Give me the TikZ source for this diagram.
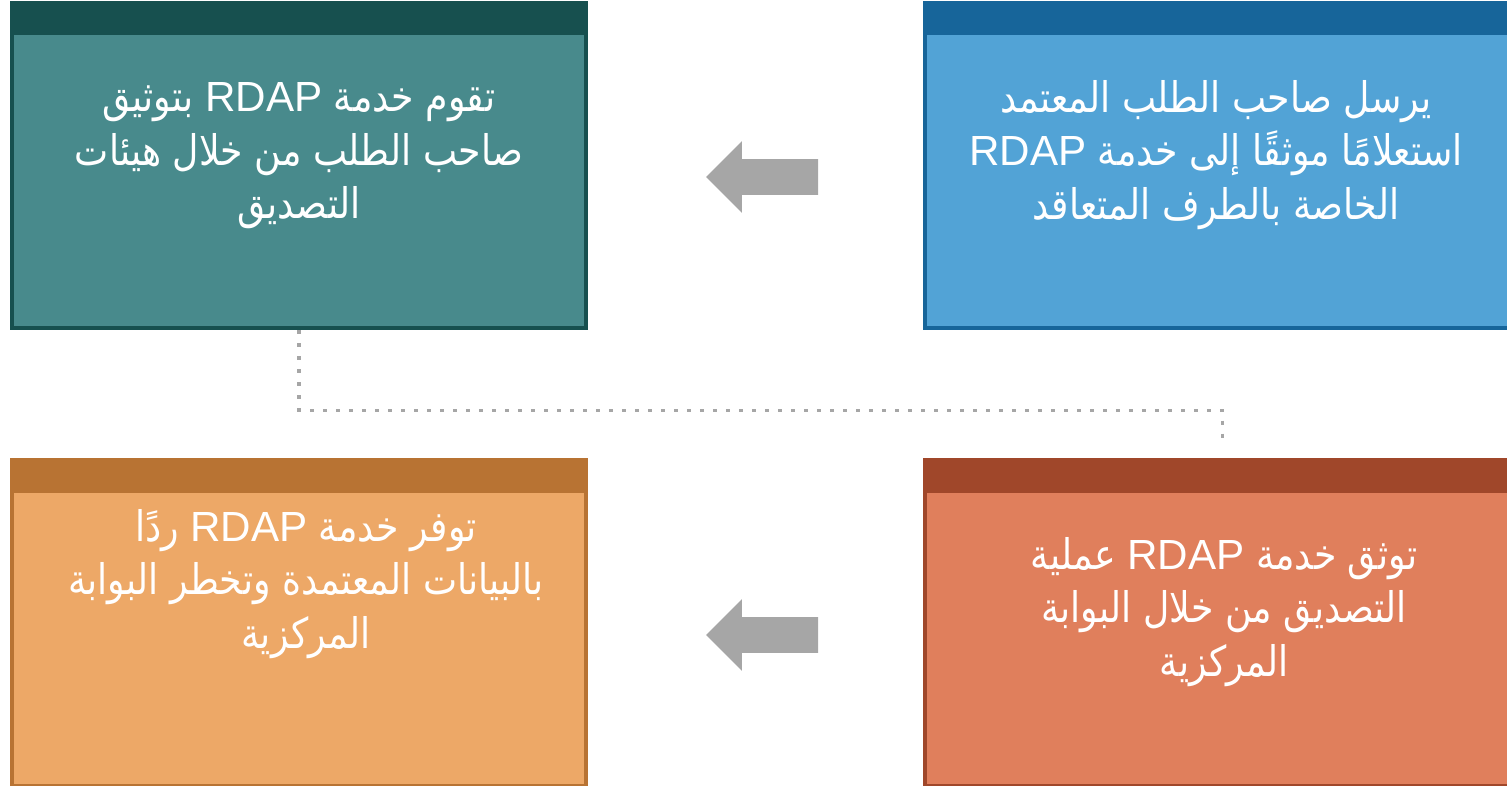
\documentclass[tikz,border=0pt]{standalone}
\usepackage{fontspec}
\usepackage{tikz}
\usetikzlibrary{positioning, calc, fit, shapes.arrows}
\TeXXeTstate=1
\newfontfamily\arabicfont[Script=Arabic, FakeStretch=0.86]{DejaVu Sans}
\newfontfamily\latinfont{Liberation Sans}
\definecolor{authhead}{HTML}{17504F}
\definecolor{authbody}{HTML}{488A8C}
\definecolor{reqhead}{HTML}{17659A}
\definecolor{reqbody}{HTML}{52A3D6}
\definecolor{replyhead}{HTML}{B87333}
\definecolor{replybody}{HTML}{EDA867}
\definecolor{checkhead}{HTML}{A0472A}
\definecolor{checkbody}{HTML}{E07F5C}
\definecolor{arrowgray}{HTML}{A6A6A6}
\tikzset{
  panel/.style = {rectangle, inner sep=0pt, line width=0.09cm},
  steptext/.style = {text=white, align=center, inner sep=0pt, font=\arabicfont\fontsize{24}{30.5}\selectfont},
  flowarrow/.style = {single arrow, fill=arrowgray, draw=none, inner xsep=0pt, inner ysep=0.35cm, minimum height=2.24cm, single arrow head extend=0.36cm, shape border rotate=180},
  dots/.style = {draw=arrowgray, line width=0.07cm, dash pattern=on 0.08cm off 0.18cm}
}

\begin{document}
\begin{tikzpicture}[x=0.02cm, y=-0.02cm]

	\useasboundingbox (0,0) rectangle (1507,785);

	% top row
	\node[panel, draw=authhead, fill=authbody, fit={(12,3) (586,328)}] (auth) {};
	\fill[authhead] (auth.north west) rectangle ($(auth.north east)+(0,34)$);
	\node[steptext] (authtext) at (299,156) {\beginR تقوم خدمة {\latinfont RDAP} بتوثيق\endR\\
		\beginR صاحب الطلب من خلال هيئات\endR\\
		\beginR التصديق\endR};

	\node[panel, draw=reqhead, fill=reqbody, fit={(925,3) (1520,328)}] (request) {};
	\fill[reqhead] (request.north west) rectangle ($(request.north east)+(0,34)$);
	\node[steptext] (requesttext) at (1216,155) {\beginR يرسل صاحب الطلب المعتمد\endR\\
		\beginR استعلامًا موثقًا إلى خدمة {\latinfont RDAP}\endR\\
		\beginR الخاصة بالطرف المتعاقد\endR};

	% bottom row
	\node[panel, draw=replyhead, fill=replybody, fit={(12,460) (586,786)}] (reply) {};
	\fill[replyhead] (reply.north west) rectangle ($(reply.north east)+(0,35)$);
	\node[steptext] (replytext) at (306,584) {\beginR توفر خدمة {\latinfont RDAP} ردًا\endR\\
		\beginR بالبيانات المعتمدة وتخطر البوابة\endR\\
		\beginR المركزية\endR};

	\node[panel, draw=checkhead, fill=checkbody, fit={(925,460) (1520,786)}] (check) {};
	\fill[checkhead] (check.north west) rectangle ($(check.north east)+(0,35)$);
	\node[steptext] (checktext) at (1224,612) {\beginR توثق خدمة {\latinfont RDAP} عملية\endR\\
		\beginR التصديق من خلال البوابة\endR\\
		\beginR المركزية\endR};

	% arrows
	\node[flowarrow] (toparrow) at (771,177) {};
	\node[flowarrow] (bottomarrow) at (771,635) {};

	\draw[dots, shorten >=0.3cm] (auth.south) -- ++(0,80) -| (check.north);

\end{tikzpicture}
\end{document}
